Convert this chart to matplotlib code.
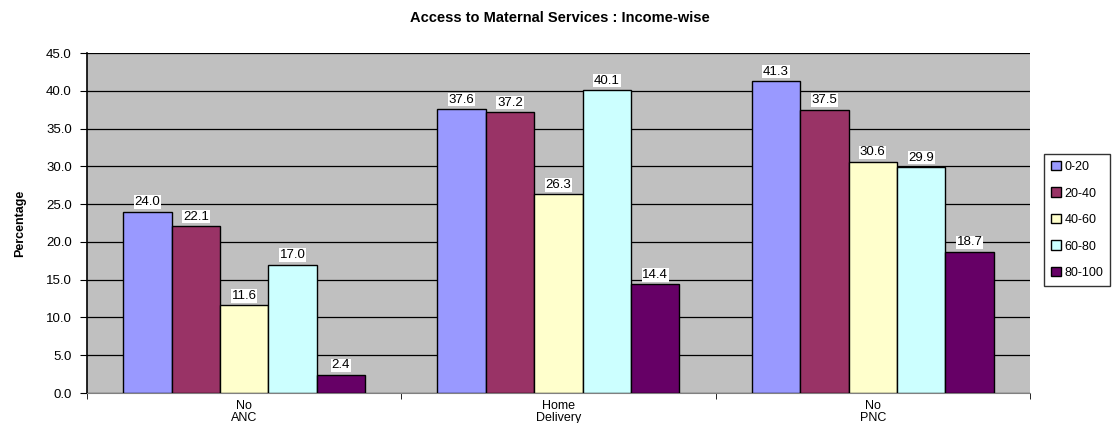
import numpy as np
import matplotlib
matplotlib.use("Agg")
import matplotlib.pyplot as plt
from matplotlib.ticker import MultipleLocator, FormatStrFormatter

# Survey results by income quintile
categories = ["No\nANC", "Home\nDelivery", "No\nPNC"]
income_groups = ["0-20", "20-40", "40-60", "60-80", "80-100"]
q0_20 = [24.0, 37.6, 41.3]
q20_40 = [22.1, 37.2, 37.5]
q40_60 = [11.6, 26.3, 30.6]
q60_80 = [17.0, 40.1, 29.9]
q80_100 = [2.4, 14.4, 18.7]
series = [q0_20, q20_40, q40_60, q60_80, q80_100]

colors = ["#9999FF", "#993366", "#FFFFCC", "#CCFFFF", "#660066"]

plt.rcParams["font.family"] = ["Liberation Sans", "DejaVu Sans"]

fig = plt.figure(figsize=(11.2, 4.23), dpi=100)
ax = fig.add_axes([0.0777, 0.0709, 0.8419, 0.8038])
ax.set_facecolor("#C0C0C0")

x = np.arange(len(categories))
bar_w = 0.154
for i, (vals, name, col) in enumerate(zip(series, income_groups, colors)):
    offs = (i - 2) * bar_w
    bars = ax.bar(x + offs, vals, width=bar_w, color=col, edgecolor="black",
                  linewidth=1.0, label=name, zorder=3)
    for b, v in zip(bars, vals):
        ax.text(b.get_x() + b.get_width() / 2, v + 0.45, f"{v:.1f}",
                ha="center", va="bottom", fontsize=9.5, zorder=4,
                bbox=dict(facecolor="white", edgecolor="none", pad=0.6))

ax.set_xlim(-0.5, len(categories) - 0.5)
ax.set_ylim(0, 45)
ax.yaxis.set_major_locator(MultipleLocator(5))
ax.yaxis.set_major_formatter(FormatStrFormatter("%.1f"))
ax.grid(axis="y", color="black", linewidth=0.9, zorder=1)
ax.set_axisbelow(True)

# category labels centred, small tick marks at group boundaries
ax.set_xticks(x)
ax.set_xticklabels(categories, fontsize=9, linespacing=0.95)
ax.tick_params(axis="x", length=0, pad=5)
ax.set_xticks(np.arange(len(categories) + 1) - 0.5, minor=True)
ax.tick_params(axis="x", which="minor", length=4, color="black")
ax.tick_params(axis="y", labelsize=9.5, length=5, color="black", pad=6)

for side in ["top", "right"]:
    ax.spines[side].set_visible(False)
ax.spines["left"].set_linewidth(1.2)
ax.spines["bottom"].set_color("#808080")

ax.set_ylabel("Percentage", fontsize=9, fontweight="bold", labelpad=14)
fig.suptitle("Access to Maternal Services : Income-wise", fontsize=10.5,
             fontweight="bold", x=0.5, y=0.975)

leg = fig.legend(loc="center left", bbox_to_anchor=(0.932, 0.48), fontsize=9,
                 frameon=True, fancybox=False, edgecolor="black",
                 handlelength=0.8, handleheight=0.8, handletextpad=0.3,
                 labelspacing=1.15, borderpad=0.55, borderaxespad=0.0)
leg.get_frame().set_linewidth(1.0)

fig.savefig("out.png", dpi=100)
